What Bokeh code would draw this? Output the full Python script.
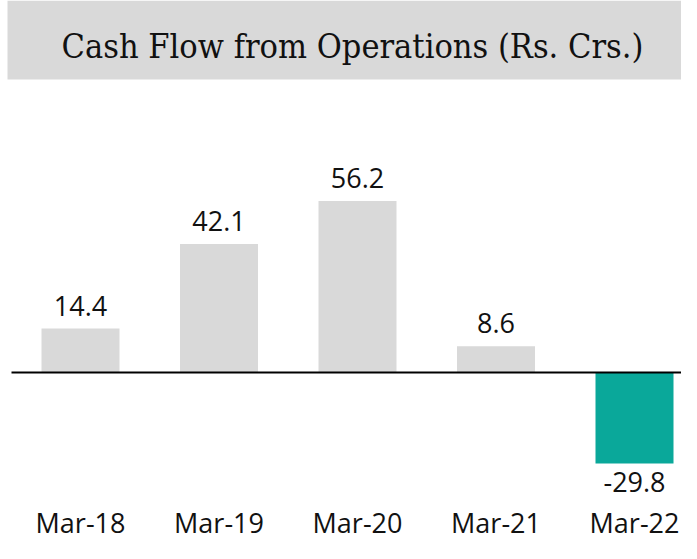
from bokeh.plotting import figure
from bokeh.models import ColumnDataSource, Range1d
from bokeh.core.properties import value
from bokeh.embed import file_html
from bokeh.resources import INLINE

# ---- data ----
categories = ["Mar-18", "Mar-19", "Mar-20", "Mar-21", "Mar-22"]
cash_flow = [14.4, 42.1, 56.2, 8.6, -29.8]
title_text = "Cash Flow from Operations (Rs. Crs.)"

# ---- layout constants (pixels) ----
W, H = 681, 543
ZERO_PX = 372          # y pixel of zero line (from top)
PX_PER_UNIT = 3.05
CAT_SPACING = 138.5
FIRST_CENTER = 80
TEXT_SHIFT = 11        # compensation for text baseline placement

idx = list(range(len(categories)))
x_start = -FIRST_CENTER / CAT_SPACING
x_end = x_start + W / CAT_SPACING
y_end = ZERO_PX / PX_PER_UNIT
y_start = -(H - ZERO_PX) / PX_PER_UNIT


def fx(px):
    return x_start + px / W * (x_end - x_start)


def fy(py):
    return y_end - py / H * (y_end - y_start)


p = figure(width=W, height=H, output_backend="svg", toolbar_location=None,
           x_range=Range1d(x_start, x_end), y_range=Range1d(y_start, y_end),
           min_border=0, outline_line_color=None)
p.axis.visible = False
p.grid.visible = False
p.background_fill_color = "white"
p.border_fill_color = "white"

# title box
p.quad(left=[fx(7)], right=[x_end], top=[y_end], bottom=[fy(79)],
       fill_color="#d9d9d9", line_color=None)
p.text(x=[fx(352)], y=[fy(56 - TEXT_SHIFT)], text=[title_text],
       text_font=value("DejaVu Serif Condensed"), text_font_size="34px",
       text_align="center", text_baseline="alphabetic", text_color="#111111")

colors = ["#d9d9d9" if v >= 0 else "#0aa89a" for v in cash_flow]
offsets = [-12 - TEXT_SHIFT if v >= 0 else 30 - TEXT_SHIFT for v in cash_flow]
labels = [f"{v:.1f}" for v in cash_flow]
src = ColumnDataSource(dict(x=idx, top=cash_flow, color=colors,
                            off=offsets, label=labels, cat=categories))

p.vbar(x="x", top="top", bottom=0, width=78 / CAT_SPACING, fill_color="color",
       line_color=None, source=src)

# zero line
p.segment(x0=[fx(11)], x1=[x_end], y0=[0], y1=[0], line_color="black", line_width=2)

# value labels
p.text(x="x", y="top", text="label", y_offset="off", source=src,
       text_font=value("Open Sans"), text_font_size="27px",
       text_align="center", text_baseline="alphabetic", text_color="#111111")

# category labels
p.text(x="x", y=fy(533 - TEXT_SHIFT), text="cat", source=src,
       text_font=value("Open Sans"), text_font_size="27px",
       text_align="center", text_baseline="alphabetic", text_color="#111111")

open("out.html", "w").write(file_html(p, INLINE))
